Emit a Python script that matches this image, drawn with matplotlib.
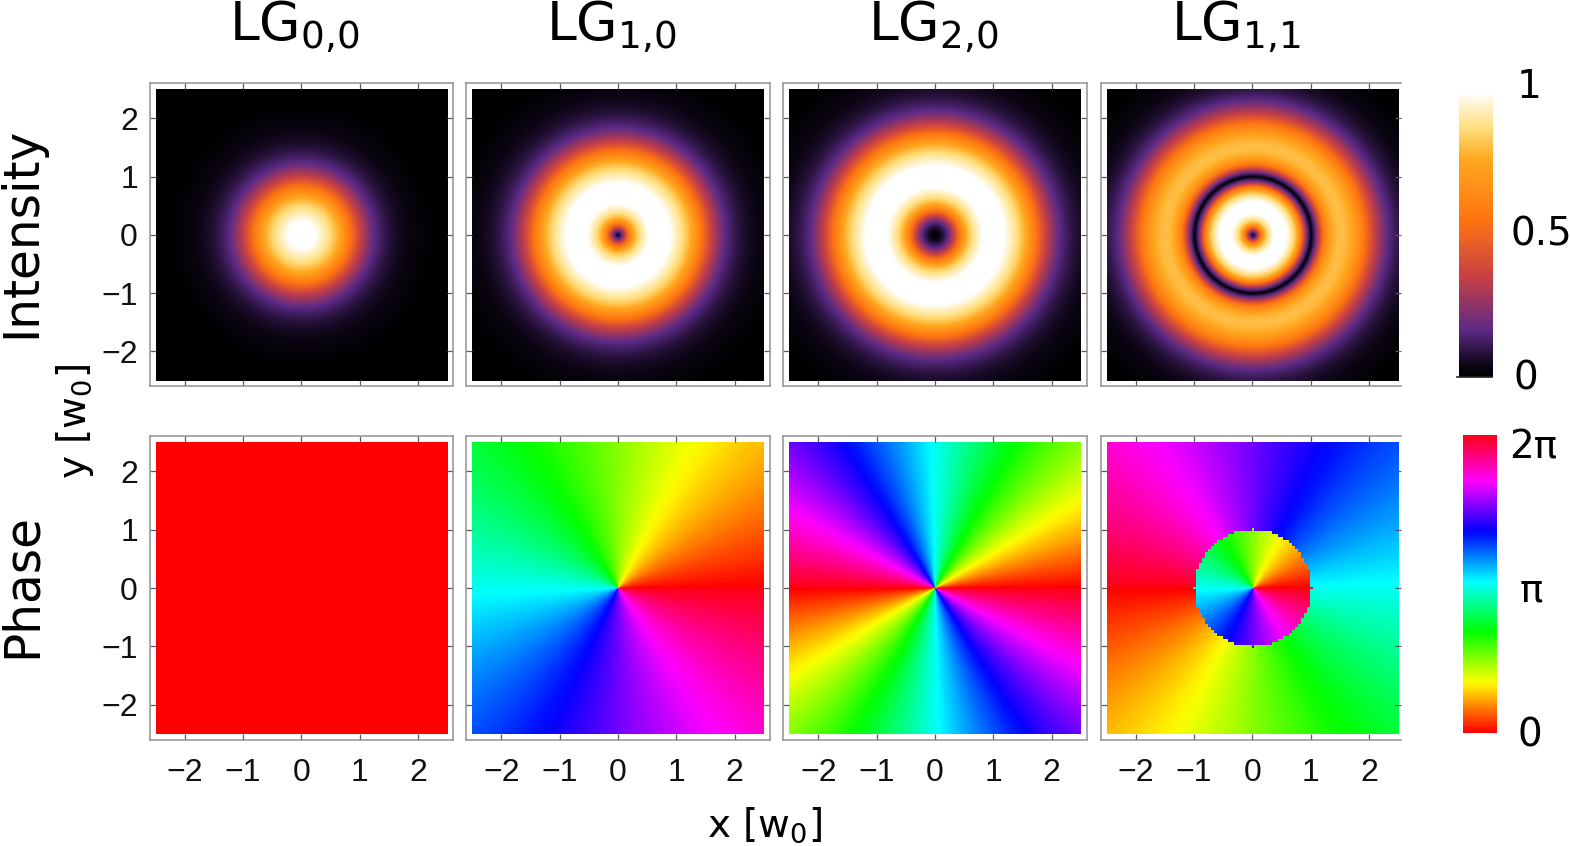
import numpy as np
import matplotlib
matplotlib.use("Agg")
import matplotlib.pyplot as plt
from matplotlib.colors import LinearSegmentedColormap

W, H = 1570, 846

# mode indices, as in the titles LG_{l,p}
mode_l = [0, 1, 2, 1]
mode_p = [0, 0, 0, 1]
titles = [r"$\mathrm{LG}_{0{,}0}$", r"$\mathrm{LG}_{1{,}0}$", r"$\mathrm{LG}_{2{,}0}$", r"$\mathrm{LG}_{1{,}1}$"]
row_labels = ["Intensity", "Phase"]
tick_values = [-2, -1, 0, 1, 2]

# colour scale of the top bar
intensity_stops = [0.0, 0.04, 0.157, 0.337, 0.53, 0.73, 0.84, 0.955, 1.0]
intensity_colors = ["#000000", "#0d0616", "#5c2a86", "#c84045", "#ff7510", "#ffa820", "#ffe080", "#ffffff", "#ffffff"]

intensity_ticks = ["1", "0.5", "0"]
phase_ticks = ["2π", "π", "0"]

# plotted value against radius in the LG_{0,0} panel
profile_r = [0, 0.15, 0.26, 0.49, 0.63, 0.83, 1.0, 1.24, 1.45, 1.6, 1.9, 2.3, 3.0]
profile_v = [1, 0.985, 0.94, 0.83, 0.74, 0.53, 0.337, 0.157, 0.09, 0.06, 0.025, 0.0, 0.0]
# the ring modes look flatter than LG_{0,0}
mode_power = [1.0, 0.8, 0.75, 0.85]

FRAME = "#929292"
TICK = "#5a5a5a"
SCALE = 58.3  # pixels per w0
col_x = [301.3, 618.0, 935.0, 1252.3]
row_y = [234.9, 588.0]
RIGHT_EDGE = 1401.0


def ax_px(fig, left, top, right, bottom):
    return fig.add_axes([left / W, 1 - bottom / H, (right - left) / W, (bottom - top) / H])


def txt(fig, x, y, s, **kw):
    kw.setdefault("ha", "center")
    kw.setdefault("va", "center")
    return fig.text(x / W, 1 - y / H, s, **kw)


def laguerre(p, l, x):
    if p == 0:
        return np.ones_like(x)
    prev, cur = np.ones_like(x), 1 + l - x
    for k in range(1, p):
        prev, cur = cur, ((2 * k + 1 + l - x) * cur - (k + l) * prev) / (k + 1)
    return cur


# smoothed lookup, so the knots of the profile do not show up as rings
table_r = np.linspace(0, 3, 601)
table_v = np.interp(table_r, profile_r, profile_v)
padded = np.concatenate([np.full(10, table_v[0]), table_v, np.full(10, table_v[-1])])
table_v = np.convolve(padded, np.ones(21) / 21, mode="valid")


def mode_intensity(l, p, power, grid):
    xx, yy = np.meshgrid(grid, grid)
    r2 = xx**2 + yy**2
    amp = (2 * r2) ** (l / 2) * laguerre(p, l, 2 * r2) * np.exp(-r2)
    inten = amp**2
    inten = np.maximum((inten / inten.max()) ** power, 1e-12)
    # radius at which LG_{0,0} has this same intensity
    r_eq = np.sqrt(-np.log(inten) / 2)
    return np.interp(r_eq, table_r, table_v)


def mode_phase(l, p, grid):
    xx, yy = np.meshgrid(grid, grid)
    # the sign flip is sampled on a coarse grid, that gives the rough circle edge
    sx, sy = np.round(xx * 20) / 20, np.round(yy * 20) / 20
    lag = laguerre(p, l, 2 * (sx**2 + sy**2))
    return (l * np.arctan2(yy, xx) + np.pi * (lag < -1e-9)) % (2 * np.pi)


def style_panel(ax, left_labels, bottom_labels, last):
    ax.set_xlim(-2.6, (RIGHT_EDGE - col_x[3]) / SCALE if last else 2.6)
    ax.set_ylim(-2.6, 2.6)
    ax.set_xticks(tick_values)
    ax.set_yticks(tick_values)
    ax.tick_params(direction="in", length=4.3, width=0.9, color=TICK,
                   top=True, right=True, labelleft=left_labels, labelbottom=bottom_labels,
                   labelsize=23, labelfontfamily="Liberation Sans", labelcolor="#111111")
    ax.tick_params(axis="x", pad=13)
    ax.tick_params(axis="y", pad=8.5)
    for sp in ax.spines.values():
        sp.set_color(FRAME)
        sp.set_linewidth(1.1)
    if last:
        ax.spines["right"].set_visible(False)


intensity_cmap = LinearSegmentedColormap.from_list("intensity", list(zip(intensity_stops, intensity_colors)), N=512)

fig = plt.figure(figsize=(W / 100, H / 100), dpi=100)

grid = np.linspace(-2.5, 2.5, 581)

for i, (l, p) in enumerate(zip(mode_l, mode_p)):
    last = i == 3
    right = RIGHT_EDGE if last else col_x[i] + 2.6 * SCALE
    left = col_x[i] - 2.6 * SCALE

    ax = ax_px(fig, left, row_y[0] - 2.6 * SCALE, right, row_y[0] + 2.6 * SCALE)
    ax.imshow(mode_intensity(l, p, mode_power[i], grid), cmap=intensity_cmap, vmin=0, vmax=1, origin="lower",
              extent=[-2.5, 2.5, -2.5, 2.5], interpolation="bilinear", aspect="auto")
    style_panel(ax, i == 0, False, last)

    ax = ax_px(fig, left, row_y[1] - 2.6 * SCALE, right, row_y[1] + 2.6 * SCALE)
    ax.imshow(mode_phase(l, p, grid), cmap="hsv", vmin=0, vmax=2 * np.pi, origin="lower",
              extent=[-2.5, 2.5, -2.5, 2.5], interpolation="nearest", aspect="auto")
    style_panel(ax, i == 0, True, last)

# colour bars
gradient = np.linspace(0, 1, 512)[:, None]

cax = ax_px(fig, 1459, 79, 1493, 377)
cax.imshow(gradient, cmap=intensity_cmap, origin="lower", aspect="auto", vmin=0, vmax=1)
cax.axis("off")
fig.add_artist(plt.Line2D([1457 / W, 1492 / W], [1 - 377 / H, 1 - 377 / H], color="#222222", lw=1.2))

cax = ax_px(fig, 1463, 435, 1497, 733)
cax.imshow(gradient, cmap="hsv", origin="lower", aspect="auto", vmin=0, vmax=1)
cax.axis("off")

for x, y, s in zip([1529, 1541, 1526], [87, 235, 378], intensity_ticks):
    txt(fig, x, y, s, fontsize=28)
for x, y, s in zip([1533, 1531, 1530], [447, 590, 735], phase_ticks):
    txt(fig, x, y, s, fontsize=28)

# titles and axis labels
for x, s in zip([294, 611, 933, 1236], titles):
    txt(fig, x, 27, s, fontsize=38.5, math_fontfamily="dejavusans")

txt(fig, 21, 232, row_labels[0], fontsize=35, rotation=90)
txt(fig, 22, 586, row_labels[1], fontsize=35, rotation=90)
txt(fig, 75, 422, r"y [w$_0$]", fontsize=28, rotation=90)
txt(fig, 764, 825, r"x [w$_0$]", fontsize=28)

fig.savefig("out.png", dpi=100)
plt.close(fig)
